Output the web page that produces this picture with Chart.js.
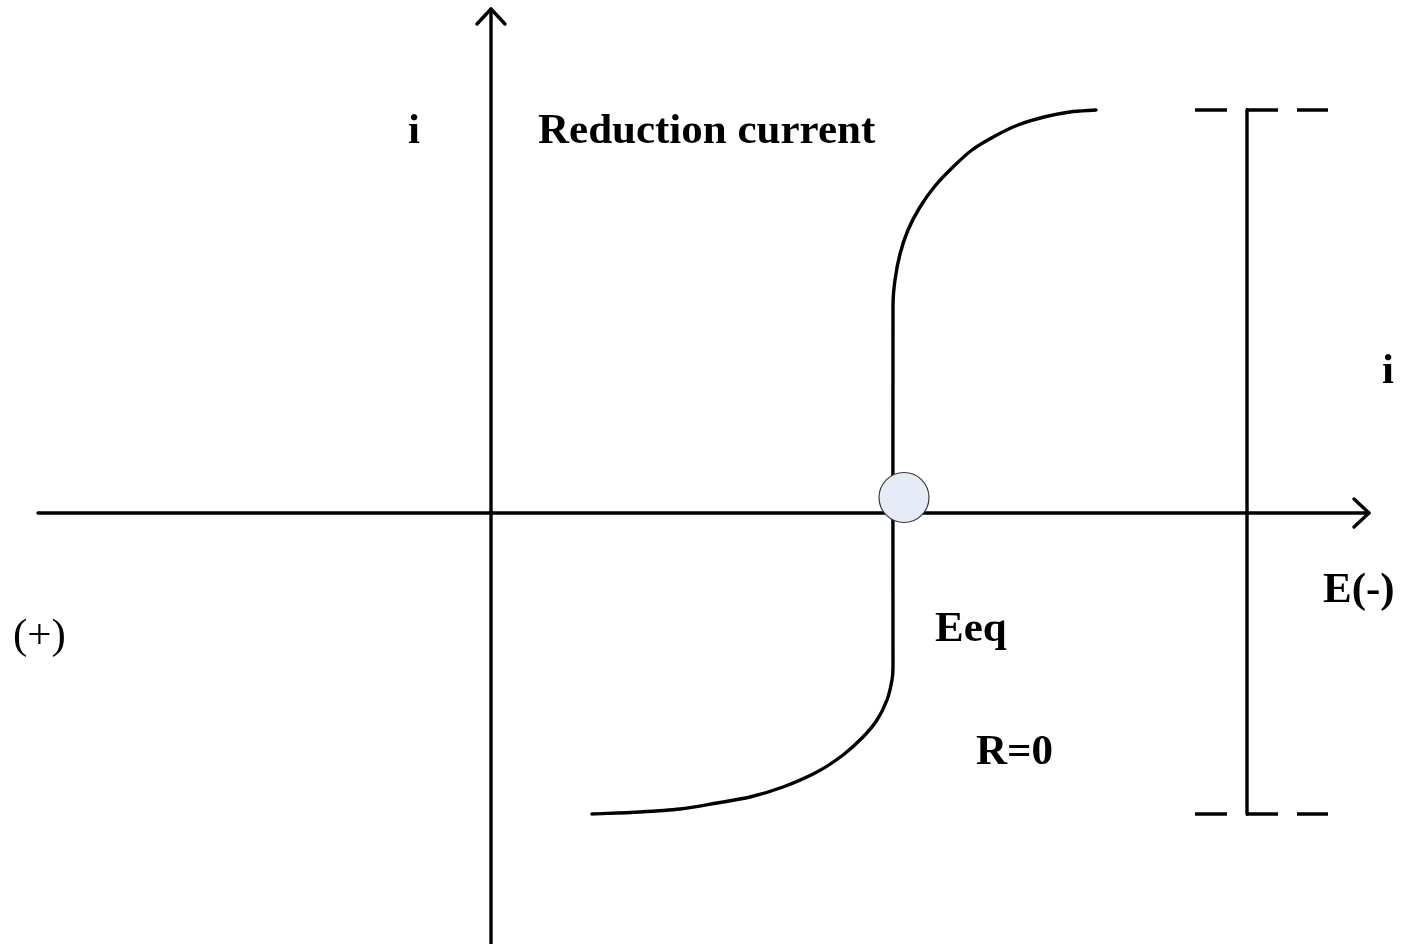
<!DOCTYPE html>
<html>
<head>
<meta charset="utf-8">
<script src="https://cdn.jsdelivr.net/npm/chart.js@4/dist/chart.umd.min.js"></script>
<style>
  html, body { margin: 0; padding: 0; background: #ffffff; }
  #wrap { width: 1401px; height: 944px; }
</style>
</head>
<body>
<div id="wrap"><canvas id="c" width="1401" height="944"></canvas></div>
<script>
// ---- Data (E and i in arbitrary schematic units, origin at axis crossing) ----
const E_AXIS_X = [-4.53, 8.78];          // horizontal E axis extent
const E_AXIS_Y = [0, 0];
const E_ARROW_X = [8.63, 8.78, 8.63];
const E_ARROW_Y = [0.14, 0, -0.14];

const I_AXIS_X = [0, 0];                  // vertical i axis
const I_AXIS_Y = [-4.31, 5.04];
const I_ARROW_X = [-0.14, 0, 0.14];
const I_ARROW_Y = [4.89, 5.04, 4.89];

// polarisation curve, from the upper plateau to the lower plateau
const CURVE_E = [6.05, 5.79, 5.53, 5.27, 5.04, 4.81, 4.62, 4.44, 4.29, 4.17, 4.09, 4.04, 4.02,
                 4.02, 4.01, 3.96, 3.86, 3.72, 3.52, 3.26, 2.92, 2.59, 2.26, 1.89, 1.49, 1.01];
const CURVE_I = [4.03, 4.01, 3.96, 3.88, 3.77, 3.63, 3.46, 3.27, 3.06, 2.83, 2.59, 2.33, 2.08,
                 -1.54, -1.67, -1.87, -2.07, -2.24, -2.42, -2.59, -2.74, -2.84, -2.90, -2.96, -2.99, -3.01];

// equilibrium point marker
const EQ_E = [4.13];
const EQ_I = [0.155];

// limiting-current bar
const LIMIT_BAR_X = [7.56, 7.56];
const LIMIT_BAR_Y = [4.03, -3.01];
const LIMIT_DASH_X = [7.04, 8.37];
const LIMIT_TOP_Y = [4.03, 4.03];
const LIMIT_BOT_Y = [-3.01, -3.01];

// text labels
const LABEL_TEXT = ["i", "Reduction current", "i", "E(-)", "(+)", "Eeq", "R=0"];
const LABEL_E    = [-0.83, 0.47, 8.91, 8.32, -4.78, 4.44, 4.85];
const LABEL_I    = [3.70, 3.70, 1.30, -0.89, -1.35, -1.28, -2.51];
const LABEL_BOLD = [true, true, true, true, false, true, true];

function pts(xs, ys) { return xs.map((x, k) => ({ x: x, y: ys[k] })); }

const lineBase = { showLine: true, pointRadius: 0, borderColor: '#000000', borderWidth: 3.4,
                   borderCapStyle: 'round', borderJoinStyle: 'round', fill: false, tension: 0, order: 2 };

const labelPlugin = {
  id: 'labels',
  afterDatasetsDraw(chart) {
    const ctx = chart.ctx, xs = chart.scales.x, ys = chart.scales.y;
    ctx.save();
    ctx.fillStyle = '#000000';
    ctx.textBaseline = 'alphabetic';
    ctx.textAlign = 'left';
    LABEL_TEXT.forEach((t, k) => {
      ctx.font = (LABEL_BOLD[k] ? 'bold ' : '') + '43px "Liberation Serif", "Times New Roman", serif';
      ctx.fillText(t, xs.getPixelForValue(LABEL_E[k]), ys.getPixelForValue(LABEL_I[k]));
    });
    ctx.restore();
  }
};

new Chart(document.getElementById('c'), {
  type: 'scatter',
  data: {
    datasets: [
      Object.assign({}, lineBase, { data: pts(E_AXIS_X, E_AXIS_Y) }),
      Object.assign({}, lineBase, { data: pts(E_ARROW_X, E_ARROW_Y) }),
      Object.assign({}, lineBase, { data: pts(I_AXIS_X, I_AXIS_Y) }),
      Object.assign({}, lineBase, { data: pts(I_ARROW_X, I_ARROW_Y) }),
      Object.assign({}, lineBase, { data: pts(CURVE_E, CURVE_I), tension: 0.3 }),
      Object.assign({}, lineBase, { data: pts(LIMIT_BAR_X, LIMIT_BAR_Y), borderCapStyle: 'butt' }),
      Object.assign({}, lineBase, { data: pts(LIMIT_DASH_X, LIMIT_TOP_Y), borderDash: [32, 19], borderCapStyle: 'butt' }),
      Object.assign({}, lineBase, { data: pts(LIMIT_DASH_X, LIMIT_BOT_Y), borderDash: [32, 19], borderCapStyle: 'butt' }),
      { data: pts(EQ_E, EQ_I), showLine: false, pointRadius: 25, pointHoverRadius: 25,
        pointBackgroundColor: '#e6ecf7', pointBorderColor: '#3a3a3a', pointBorderWidth: 1.2, order: 0 }
    ]
  },
  options: {
    responsive: false,
    animation: false,
    events: [],
    layout: { padding: 0, autoPadding: false },
    plugins: { legend: { display: false }, tooltip: { enabled: false }, title: { display: false } },
    scales: {
      x: { type: 'linear', min: -4.91, max: 9.10, display: false },
      y: { type: 'linear', min: -4.31, max: 5.13, display: false }
    }
  },
  plugins: [labelPlugin]
});
</script>
</body>
</html>
